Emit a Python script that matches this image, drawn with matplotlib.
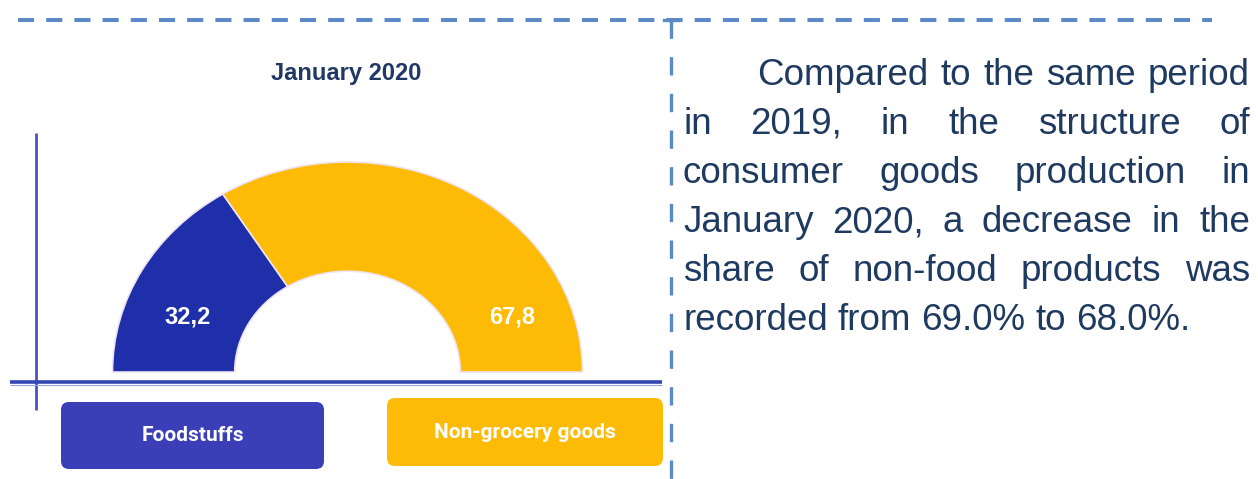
import matplotlib
matplotlib.use("Agg")
import matplotlib.pyplot as plt
from matplotlib.patches import FancyBboxPatch

# data
categories = ["Foodstuffs", "Non-grocery goods"]
shares = [32.2, 67.8]
share_labels = ["32,2", "67,8"]
title = "January 2020"
para_lines = [
    "Compared to the same period",
    "in 2019, in the structure of",
    "consumer goods production in",
    "January 2020, a decrease in the",
    "share of non-food products was",
    "recorded from 69.0% to 68.0%.",
]

W, H = 1258, 479
blue_wedge = "#1f2fa9"
yellow = "#fdbb05"
blue_box = "#3a3fb8"
dash_col = "#5b8ac6"
text_col = "#1f3a60"

fig = plt.figure(figsize=(W / 100, H / 100), dpi=100)
fig.patch.set_facecolor("white")

# background axes in pixel units (y down)
bg = fig.add_axes([0, 0, 1, 1])
bg.set_xlim(0, W)
bg.set_ylim(H, 0)
bg.axis("off")

# dashed frame
bg.plot([18, 1212], [20, 20], color=dash_col, lw=2.9, ls=(0, (4, 3)), solid_capstyle="butt")
bg.plot([671, 671], [20, H], color=dash_col, lw=2.4, ls=(0, (5.5, 5.5)))
bg.plot([664, 678], [20, 20], color=dash_col, lw=2.4)

# axis-like lines of the chart
bg.plot([36, 36], [133, 410], color="#4b52c4", lw=2.0, solid_capstyle="butt")
bg.plot([10, 662], [382, 382], color="#3446b2", lw=2.6, solid_capstyle="butt")
bg.plot([10, 662], [384.5, 384.5], color="#9aa4e4", lw=0.8, solid_capstyle="butt")

# title
bg.text(346, 73, title, ha="center", va="center", fontsize=17, fontweight="bold",
        color="#1f3864", family="Liberation Sans")

# legend boxes
boxes = [(61, 402, 263, 67, blue_box), (387, 398, 276, 68, yellow)]
for (x, y, w, h, c), name in zip(boxes, categories):
    bg.add_patch(FancyBboxPatch((x + 8, y + 8), w - 16, h - 16,
                                boxstyle="round,pad=8", fc=c, ec="none"))
    bg.text(x + w / 2, y + h / 2, name, ha="center", va="center", fontsize=15,
            fontweight="bold", color="white", family="Roboto")

# paragraph, justified word by word
renderer = fig.canvas.get_renderer()
left_x, indent_x, right_x = 683, 757, 1250
base0, step = 85, 49
for i, line in enumerate(para_lines):
    words = line.split()
    y = base0 + i * step
    x0 = indent_x if i == 0 else left_x
    arts = [bg.text(0, y, w, ha="left", va="baseline", fontsize=26.5,
                    color=text_col, family="Liberation Sans") for w in words]
    widths = [a.get_window_extent(renderer).width for a in arts]
    if i == len(para_lines) - 1:
        gap = 0.278 * 26.5 / 72 * 100
    else:
        gap = (right_x - x0 - sum(widths)) / (len(words) - 1)
    x = x0
    for a, w in zip(arts, widths):
        a.set_x(x)
        x += w + gap

# half donut (slightly flattened ellipse)
cx, cy, rx, ry = 347.5, 372, 235, 210
ax = fig.add_axes([(cx - rx) / W, (H - cy) / H, 2 * rx / W, ry * 1.05 / H])
wedges, _ = ax.pie(shares + [sum(shares)], colors=[blue_wedge, yellow, "white"],
                   startangle=180, counterclock=False, radius=1,
                   wedgeprops=dict(width=0.52, edgecolor="#efe3f2", linewidth=1.2))
wedges[2].set_visible(False)
for wdg in wedges:
    wdg.set_clip_on(False)
ax.set_aspect("auto")
ax.set_xlim(-1, 1)
ax.set_ylim(0, 1.05)
ax.axis("off")

for xs, lab in zip([-0.68, 0.70], share_labels):
    ax.text(xs, 0.26, lab, ha="center", va="center", fontsize=17,
            fontweight="bold", color="white", family="Liberation Sans")

fig.savefig("out.png", dpi=100, facecolor="white")
